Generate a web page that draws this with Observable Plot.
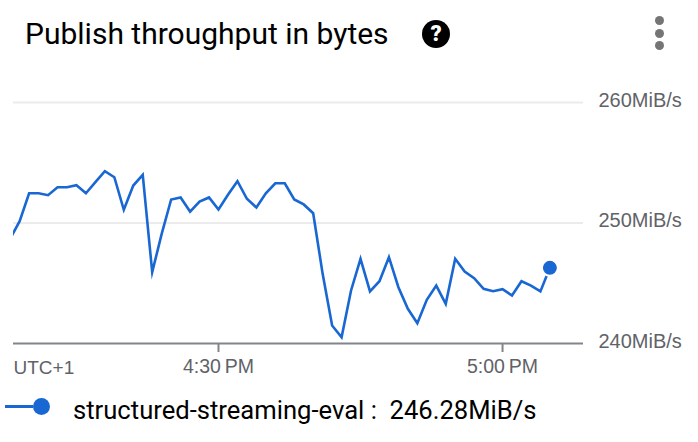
<!DOCTYPE html>
<html>
<head>
<meta charset="utf-8">
<script src="https://cdn.jsdelivr.net/npm/d3@7"></script>
<script src="https://cdn.jsdelivr.net/npm/@observablehq/plot@0.6"></script>
<style>
  html, body { margin: 0; padding: 0; background: #fff; overflow: hidden; }
  #page { position: relative; width: 698px; height: 442px; font-family: Roboto, sans-serif; }
  #title { position: absolute; left: 25px; top: 14px; font-size: 30px; line-height: 40px; color: #000; white-space: nowrap; }
  #help { position: absolute; left: 422px; top: 20px; width: 28px; height: 28px; border-radius: 50%; background: #000; color: #fff;
          font: 900 22px/28px Roboto, sans-serif; text-align: center; }
  .more { position: absolute; left: 655px; width: 9px; height: 9px; border-radius: 50%; background: #757575; }
  #chart { position: absolute; left: 0; top: 66px; }
  #legendLine { position: absolute; left: 5px; top: 405px; width: 28px; height: 3px; background: #1967d2; }
  #legendDot { position: absolute; left: 33px; top: 398px; width: 17px; height: 17px; border-radius: 50%; background: #1967d2; }
  #legendText { position: absolute; left: 73px; top: 394px; font-size: 25.6px; line-height: 32px; color: #000; white-space: pre; }
</style>
</head>
<body>
<div id="page">
  <div id="title">Publish throughput in bytes</div>
  <div id="help">?</div>
  <div class="more" style="top:16px"></div>
  <div class="more" style="top:29px"></div>
  <div class="more" style="top:41px"></div>
  <div id="chart"></div>
  <div id="legendLine"></div>
  <div id="legendDot"></div>
  <div id="legendText"></div>
</div>
<script>
const seriesName = "structured-streaming-eval";
const unit = "MiB/s";
const startTime = "2021-01-01T16:08:00Z";
const throughput = [
  248.69, 250.15, 252.47, 252.47, 252.31, 252.97, 252.97, 253.14, 252.47, 253.39,
  254.30, 253.80, 251.10, 253.11, 254.00, 245.92, 249.10, 251.95, 252.12, 250.95,
  251.78, 252.12, 251.12, 252.34, 253.47, 252.01, 251.29, 252.47, 253.30, 253.30,
  251.95, 251.54, 250.81, 245.78, 241.49, 240.52, 244.40, 247.03, 244.32, 245.17,
  247.16, 244.67, 242.88, 241.68, 243.63, 244.81, 243.29, 247.03, 245.98, 245.42,
  244.54, 244.34, 244.51, 243.98, 245.17, 244.81, 244.32, 246.28
];
const yTicks = [240, 250, 260];
const xTicks = ["2021-01-01T16:30:00Z", "2021-01-01T17:00:00Z"];
const xTickLabels = ["4:30\u2009PM", "5:00\u2009PM"];
const xStartLabel = "UTC+1";
const xDomain = ["2021-01-01T16:08:21Z", "2021-01-01T17:08:33Z"];
const lineColor = "#1967d2";
const textColor = "#5f6368";
const axisFont = "'Liberation Sans', Arial, sans-serif";

const start = new Date(startTime);
const points = throughput.map((v, i) => ({ t: new Date(+start + i * 60000), v }));
const last = points[points.length - 1];
const xTickDates = xTicks.map(d => new Date(d));
const fmtX = new Map(xTickDates.map((d, i) => [+d, xTickLabels[i]]));

const plot = Plot.plot({
  width: 698, height: 316,
  marginLeft: 13, marginRight: 115, marginTop: 36, marginBottom: 39,
  style: { fontFamily: axisFont, background: "transparent", overflow: "visible" },
  x: { type: "time", domain: xDomain.map(d => new Date(d)) },
  y: { type: "linear", domain: [240, 260] },
  marks: [
    Plot.ruleY([250, 260], { stroke: "#ebebeb", strokeWidth: 2, strokeOpacity: 1 }),
    Plot.ruleY([240], { stroke: "#80868b", strokeWidth: 2, strokeOpacity: 1 }),
    Plot.axisX({ ticks: xTickDates, tickSize: 9, tickPadding: 7, stroke: "#80868b", strokeWidth: 2, strokeOpacity: 1,
                 tickFormat: d => fmtX.get(+d), fontSize: 19.5, fill: textColor, label: null }),
    Plot.text([xStartLabel], { frameAnchor: "bottom-left", dy: 30, lineAnchor: "bottom", textAnchor: "start",
                 fontSize: 19, fill: textColor }),
    Plot.axisY({ anchor: "right", ticks: yTicks, tickSize: 0, tickPadding: 15, dy: -2,
                 tickFormat: d => d + unit, fontSize: 20, fill: textColor, label: null }),
    Plot.line(points, { x: "t", y: "v", stroke: lineColor, strokeWidth: 2.6, clip: true, strokeLinejoin: "miter", strokeMiterlimit: 10 }),
    Plot.dot([last], { x: "t", y: "v", r: 8, fill: lineColor, stroke: "#fff", strokeWidth: 2 })
  ]
});
document.getElementById("chart").appendChild(plot);
document.getElementById("legendText").textContent = seriesName + " :  " + last.v.toFixed(2) + unit;
</script>
</body>
</html>
